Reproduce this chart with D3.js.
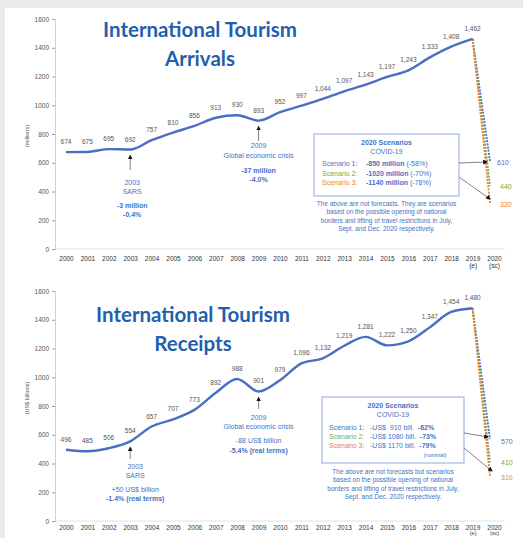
<!DOCTYPE html>
<html><head><meta charset="utf-8">
<script src="https://cdn.jsdelivr.net/npm/d3@7"></script>
<style>
html,body{margin:0;padding:0;background:#e9eaec;}
svg{display:block;}
</style></head>
<body>
<svg id="c" width="523" height="538"></svg>
<script>
const years = ["2000","2001","2002","2003","2004","2005","2006","2007","2008","2009","2010","2011","2012","2013","2014","2015","2016","2017","2018","2019","2020"];
const yearSub = {"2019":"(e)","2020":"(sc)"};
const arrivals = [674,675,695,692,757,810,856,913,930,893,952,997,1044,1097,1143,1197,1243,1333,1408,1462];
const receipts = [496,485,506,554,657,707,773,892,988,901,979,1096,1132,1219,1281,1222,1250,1347,1454,1480];
const arrivalScenarios = [610,440,320];
const receiptScenarios = [570,410,310];
const scenarioColors = ["#4472C4","#70AD47","#ED7D31"];
const yTicks = [0,200,400,600,800,1000,1200,1400,1600];

const BLUE = "#4472C4", LINE = "#4a6dc5", TITLE = "#1f5fae", GRAY = "#555";
const svg = d3.select("#c");
svg.append("rect").attr("x",5).attr("y",8).attr("width",518).attr("height",530).attr("fill","#fff");

const x = d3.scalePoint().domain(years).range([66,494]);
const fmt = d3.format(",");

function chart(cfg){
  const y = d3.scaleLinear().domain([0,1600]).range([cfg.y0, cfg.y0-230]);
  const g = svg.append("g");
  // y axis
  const ax = g.append("g").attr("transform",`translate(55,0)`)
    .call(d3.axisLeft(y).tickValues(yTicks).tickFormat(d3.format("d")).tickSize(3).tickPadding(3));
  ax.select(".domain").attr("stroke","#d0d0d0");
  ax.selectAll(".tick line").attr("stroke","#999");
  ax.selectAll(".tick text").attr("fill",GRAY).attr("font-family","Liberation Sans, Arial").attr("font-size",6.5);
  // x baseline + labels
  const bx = g.append("g").attr("transform",`translate(0,${cfg.y0})`)
    .call(d3.axisBottom(x).tickSize(0).tickPadding(cfg.xPad));
  bx.select(".domain").attr("stroke","#e2e2e2").attr("d",`M55,0H505`);
  bx.selectAll(".tick text").attr("fill","#333").attr("font-family","Liberation Sans, Arial").attr("font-size",6.5)
    .each(function(d){ if(yearSub[d]){ d3.select(this).append("tspan").attr("x",0).attr("dy",cfg.subDy).attr("font-size",cfg.subFs).text(yearSub[d]); }});
  // y title
  g.append("text").attr("transform",`translate(29,${cfg.yTitleY}) rotate(-90)`).attr("text-anchor","middle")
    .attr("font-family","Liberation Sans, Arial").attr("font-size",5.5).attr("fill","#555").text(cfg.yTitle);
  // titles
  cfg.title.forEach((t,i)=>{
    g.append("text").attr("x",cfg.titleX).attr("y",cfg.titleY[i]).attr("text-anchor","middle")
      .attr("font-family","Lato, Open Sans, sans-serif").attr("font-weight","bold").attr("font-size",20.5)
      .attr("fill",TITLE).text(t);
  });
  // scenario dashed lines
  const last = cfg.values[cfg.values.length-1];
  cfg.scen.forEach((v,i)=>{
    g.append("line").attr("x1",x("2019")).attr("y1",y(last)).attr("x2",x("2020")-4).attr("y2",y(v))
      .attr("stroke",scenarioColors[i]).attr("stroke-width",1.8).attr("stroke-dasharray","2,1.2");
  });
  // main line
  const data = cfg.values.map((v,i)=>({yr:years[i],v}));
  g.append("path").datum(data).attr("fill","none").attr("stroke",LINE).attr("stroke-width",2.4)
    .attr("stroke-linejoin","round")
    .attr("d",d3.line().x(d=>x(d.yr)).y(d=>y(d.v)).curve(d3.curveMonotoneX));
  // data labels
  g.selectAll(".dl").data(data).join("text").attr("x",d=>x(d.yr)).attr("y",d=>y(d.v)-8)
    .attr("text-anchor","middle").attr("font-family","Liberation Sans, Arial").attr("font-size",6.5)
    .attr("fill","#555").text(d=>fmt(d.v));
  // scenario labels
  cfg.scen.forEach((v,i)=>{
    g.append("text").attr("x",x("2020")+cfg.scLabDx[i]).attr("y",y(v)+cfg.scLabDy[i]).attr("font-family","Liberation Sans, Arial")
      .attr("font-size",7).attr("fill",scenarioColors[i]).text(v);
  });
  const arrow = (x1,y1,x2,y2)=>{
    g.append("line").attr("x1",x1).attr("y1",y1).attr("x2",x2).attr("y2",y2).attr("stroke","#666").attr("stroke-width",0.8).attr("marker-end","url(#ah)");
  };
  // annotations
  cfg.notes.forEach(n=>{
    const ax0 = x(n.yr) + (n.dx||0);
    arrow(ax0, n.tail, ax0, y(cfg.values[years.indexOf(n.yr)])+6);
    n.lines.forEach((l,i)=>{
      g.append("text").attr("x",ax0+(n.tdx||0)).attr("y",n.ys[i]).attr("text-anchor","middle")
        .attr("font-family","Liberation Sans, Arial").attr("font-size",7).attr("fill",BLUE)
        .attr("font-weight",l.b?"bold":"normal").text(l.t);
    });
  });
  // box
  const b = cfg.box;
  g.append("rect").attr("x",b.x).attr("y",b.y).attr("width",b.w).attr("height",b.h).attr("fill","#fff")
    .attr("stroke","#8eaadb").attr("stroke-width",1);
  const cx = b.x + b.w/2;
  g.append("text").attr("x",cx).attr("y",b.y+11).attr("text-anchor","middle").attr("font-family","Liberation Sans, Arial")
    .attr("font-size",7).attr("font-weight","bold").attr("fill",BLUE).text("2020 Scenarios");
  g.append("text").attr("x",cx).attr("y",b.y+20).attr("text-anchor","middle").attr("font-family","Liberation Sans, Arial")
    .attr("font-size",7).attr("fill",BLUE).text("COVID-19");
  cfg.rows.forEach((r,i)=>{
    const yy = b.y + cfg.rowY[i];
    g.append("text").attr("x",b.x+cfg.colX[0]).attr("y",yy).attr("font-family","Liberation Sans, Arial").attr("font-size",7)
      .attr("fill",scenarioColors[i]).text(`Scenario ${i+1}:`);
    const t = g.append("text").attr("x",b.x+cfg.colX[1]).attr("y",yy).attr("font-family","Liberation Sans, Arial").attr("font-size",7).attr("fill",BLUE).attr("xml:space","preserve");
    r.forEach(p=>t.append("tspan").attr("font-weight",p.b?"bold":"normal").text(p.t));
  });
  if(cfg.extra){
    g.append("text").attr("x",b.x+cfg.extra.x).attr("y",b.y+cfg.extra.y).attr("text-anchor","middle").attr("font-family","Liberation Sans, Arial")
      .attr("font-size",5.5).attr("fill",BLUE).text(cfg.extra.t);
  }
  cfg.below.forEach((l,i)=>{
    g.append("text").attr("x",cx).attr("y",b.y+b.h+cfg.belowY+i*8.3).attr("text-anchor","middle").attr("font-family","Liberation Sans, Arial")
      .attr("font-size",6.5).attr("fill",BLUE).text(l);
  });
  cfg.arrows.forEach(a=>arrow(a[0],a[1],a[2],a[3]));
}

svg.append("defs").append("marker").attr("id","ah").attr("viewBox","0 0 10 10").attr("refX",8).attr("refY",5)
  .attr("markerWidth",6).attr("markerHeight",6).attr("orient","auto-start-reverse")
  .append("path").attr("d","M0,0L10,5L0,10z").attr("fill","#111");

chart({
  y0:249, values:arrivals, scen:arrivalScenarios, yTitle:"(millions)", yTitleY:136,
  xPad:7, subDy:"1.15em", subFs:6.5,
  title:["International Tourism","Arrivals"], titleX:200, titleY:[37,66],
  scLabDx:[3,6,6], scLabDy:[4,3,4],
  notes:[
    {yr:"2003", tail:170, lines:[{t:"2003"},{t:"SARS"},{t:"-3 million",b:1},{t:"-0.4%",b:1}], ys:[185,194,208,217], tdx:2},
    {yr:"2009", tail:141, lines:[{t:"2009"},{t:"Global economic crisis"},{t:"-37 million",b:1},{t:"-4.0%",b:1}], ys:[148,158,173,182]}
  ],
  box:{x:314,y:134,w:145,h:62},
  rowY:[32,42,51], colX:[8,52],
  rows:[
    [{t:"-850 million",b:1},{t:" (-58%)"}],
    [{t:"-1020 million",b:1},{t:" (-70%)"}],
    [{t:"-1140 million",b:1},{t:" (-78%)"}]
  ],
  below:["The above are not forecasts. They are scenarios","based on the possible opening of national","borders and lifting of travel restrictions in July,","Sept. and Dec. 2020 respectively."],
  belowY:10,
  arrows:[[459,163,487,162],[459,177,490,199]]
});

chart({
  y0:521, values:receipts, scen:receiptScenarios, yTitle:"(US$ billions)", yTitleY:398,
  xPad:4, subDy:"1.0em", subFs:5.5,
  title:["International Tourism","Receipts"], titleX:193, titleY:[322,351],
  scLabDx:[7,7,7], scLabDy:[5,3,4],
  notes:[
    {yr:"2003", tail:459, lines:[{t:"2003"},{t:"SARS"},{t:"+50 US$ billion"},{t:"-1.4% (real terms)",b:1}], ys:[469,478,492,501], tdx:5},
    {yr:"2009", tail:409, lines:[{t:"2009"},{t:"Global economic crisis"},{t:"-88 US$ billion"},{t:"-5.4% (real terms)",b:1}], ys:[420,429,443,453]}
  ],
  box:{x:322,y:397,w:142,h:66},
  rowY:[33,42,51], colX:[7,48],
  rows:[
    [{t:"-US$  910 bill.  "},{t:"-62%",b:1}],
    [{t:"-US$ 1080 bill.  "},{t:"-73%",b:1}],
    [{t:"-US$ 1170 bill.  "},{t:"-79%",b:1}]
  ],
  extra:{t:"(nominal)",x:113,y:60},
  below:["The above are not forecasts but scenarios","based on the possible opening of national","borders and lifting of travel restrictions in July,","Sept. and Dec. 2020 respectively."],
  belowY:11,
  arrows:[[464,433,488,437],[464,448,492,471]]
});
</script>
</body></html>
